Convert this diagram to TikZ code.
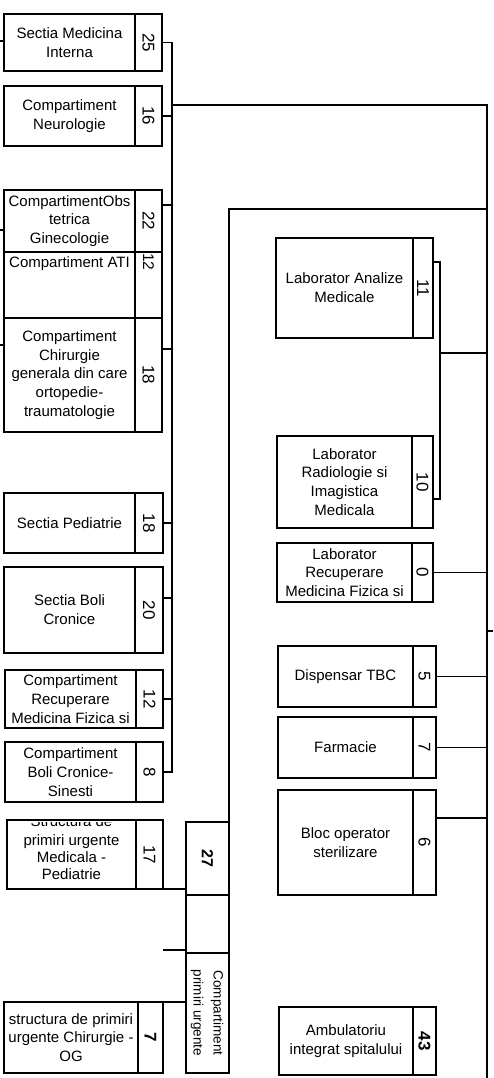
\documentclass[tikz,border=0pt]{standalone}
\usepackage{graphicx}
\usepackage{fontspec}
\setmainfont{Liberation Sans}
\tikzset{
  ubx/.style={draw, line width=2.8pt, outer sep=0pt, inner sep=0pt, anchor=north west, align=center, font=\fontsize{15}{18.8}\selectfont},
  unum/.style={ubx, font=\fontsize{17}{19}\selectfont},
  thinb/.style={line width=1.3pt},
  wire/.style={line width=1.2pt},
  lbl/.style={inner sep=0pt, align=center, font=\fontsize{15}{18.8}\selectfont},
}
\newcommand\ubox[9]{%
  \node[ubx,#9,minimum width={#3-#2},minimum height={#6-#5}] (#1) at (#2,#5) {#7};
  \node[unum,#9,minimum width={#4-#3},minimum height={#6-#5}] (#1n) at (#3,#5) {\rotatebox{-90}{#8}};
}
\begin{document}
\begin{tikzpicture}[x=1pt,y=-1pt]
\fill[white] (0,0) rectangle (493,1078);
\useasboundingbox (0,0) rectangle (493,1078);

% left column
\ubox{b1}{4}{135}{162}{14}{71}{Sectia Medicina\\Interna}{25}{}
\ubox{b2}{4}{135}{162}{86}{146}{Compartiment\\Neurologie}{16}{}
\ubox{b3}{4}{135}{162}{190}{252}{CompartimentObs\\tetrica\\Ginecologie}{22}{}
\ubox{b4}{4}{135}{162}{252}{318}{}{}{}
\node[lbl] (b4t) at (69.5,264) {Compartiment ATI};
\node[lbl, font=\fontsize{15.5}{19}\selectfont] (b4nt) at (148.5,262) {\rotatebox{-90}{12}};
\ubox{b5}{4}{135}{162}{318}{432}{Compartiment\\Chirurgie\\generala din care\\ortopedie-\\traumatologie}{18}{}
\ubox{b6}{4}{135}{163}{493}{553}{Sectia Pediatrie}{18}{}
\ubox{b7}{4}{135}{163}{567}{653}{Sectia Boli\\Cronice}{20}{}
\ubox{b8}{5}{136}{163}{670}{728}{Compartiment\\Recuperare\\Medicina Fizica si}{12}{}
\ubox{b9}{5}{136}{163}{742}{802}{Compartiment\\Boli Cronice-\\Sinesti}{8}{}
\begin{scope}
  \clip (7,822) rectangle (136,889);
  \node[lbl, anchor=base] (b10h) at (71.5,826) {Structura de};
\end{scope}
\node[lbl, font=\fontsize{15}{17}\selectfont] (b10t) at (71.5,857) {primiri urgente\\Medicala -\\Pediatrie};
\ubox{b10}{7}{136}{163}{820}{889}{}{17}{}
\ubox{b11}{4}{138}{163}{1002}{1073}{structura de primiri\\urgente Chirurgie -\\OG}{\textbf{7}}{}

% compartiment primiri urgente
\node[ubx, minimum width=43, minimum height=73] (pu1) at (186,822) {\rotatebox{-90}{\fontsize{16}{19}\selectfont\textbf{27}}};
\node[ubx, minimum width=43, minimum height=58] (pu2) at (186,895) {};
\node[ubx, minimum width=43, minimum height=120, font=\fontsize{13.5}{20}\selectfont] (pu3) at (186,953) {\rotatebox{-90}{\begin{tabular}{@{}c@{}}Compartiment\\primiri urgente\end{tabular}}};

% right column
\ubox{r1}{276}{413}{433}{238}{338}{Laborator Analize\\Medicale}{11}{}
\ubox{r2}{277}{412}{433}{436}{528}{Laborator\\Radiologie si\\Imagistica\\Medicala}{10}{thinb}
\ubox{r3}{277}{412}{433}{543}{602}{Laborator\\Recuperare\\Medicina Fizica si}{0}{}
\ubox{r4}{278}{413}{436}{646}{707}{Dispensar TBC}{5}{}
\ubox{r5}{278}{413}{436}{717}{778}{Farmacie}{7}{}
\ubox{r6}{278}{413}{436}{790}{895}{Bloc operator\\sterilizare}{6}{}
\ubox{r7}{279}{413}{436}{1007}{1075}{Ambulatoriu\\integrat spitalului}{\textbf{43}}{}

% coordinates
\coordinate (busL) at (172,0);
\coordinate (busR) at (487,0);
\coordinate (rbot) at (487,1078);

% left bus
\draw[wire] (b1n.east) -- (b1n.east -| busL) -- (busL |- b9n.east) -- (b9n.east);
\draw[wire] (b2n.east) -- (b2n.east -| busL);
\coordinate (c3) at (0,205); \draw[wire] (b3n.east |- c3) -- (busL |- c3);
\coordinate (c5) at (0,349); \draw[wire] (b5n.east |- c5) -- (busL |- c5);
\draw[wire] (b6n.east) -- (b6n.east -| busL);
\coordinate (c7) at (0,598); \draw[wire] (b7n.east |- c7) -- (busL |- c7);
\draw[wire] (b8n.east) -- (b8n.east -| busL);

% left stubs
\coordinate (s1) at (0,41); \draw[wire] (s1) -- (s1 -| b1.west);
\coordinate (s3) at (0,230); \draw[wire] (s3) -- (s3 -| b3.west);
\coordinate (s5) at (0,345); \draw[wire] (s5) -- (s5 -| b5.west);

% top links to right bus
\coordinate (j1) at (172,105);
\draw[wire] (j1) -- (j1 -| busR) -- (rbot);
\coordinate (j2) at (229,209);
\draw[wire] (pu1.north east) -- (j2) -- (j2 -| busR);

% bracket 11/10
\coordinate (k1) at (440,262);
\coordinate (k2) at (440,499);
\coordinate (k3) at (440,353);
\draw[wire] (r1n.east |- k1) -- (k1) -- (k2) -- (r2n.east |- k2);
\draw[wire] (k3) -- (k3 -| busR);

% right connectors
\draw[wire] (r3n.east) -- (r3n.east -| busR);
\draw[wire] (r4n.east) -- (r4n.east -| busR);
\draw[wire] (r5n.east) -- (r5n.east -| busR);
\coordinate (c6) at (0,818); \draw[wire] (r6n.east |- c6) -- (busR |- c6);
\coordinate (rs) at (493,631); \draw[wire] (rs -| busR) -- (rs);

% links to primiri urgente
\draw[wire] (b10n.south east) -- (b10n.south east -| pu1.west);
\coordinate (f1) at (163,950); \draw[wire] (f1) -- (f1 -| pu2.west);
\draw[wire] (b11n.north east) -- (b11n.north east -| pu3.west);
\end{tikzpicture}
\end{document}
